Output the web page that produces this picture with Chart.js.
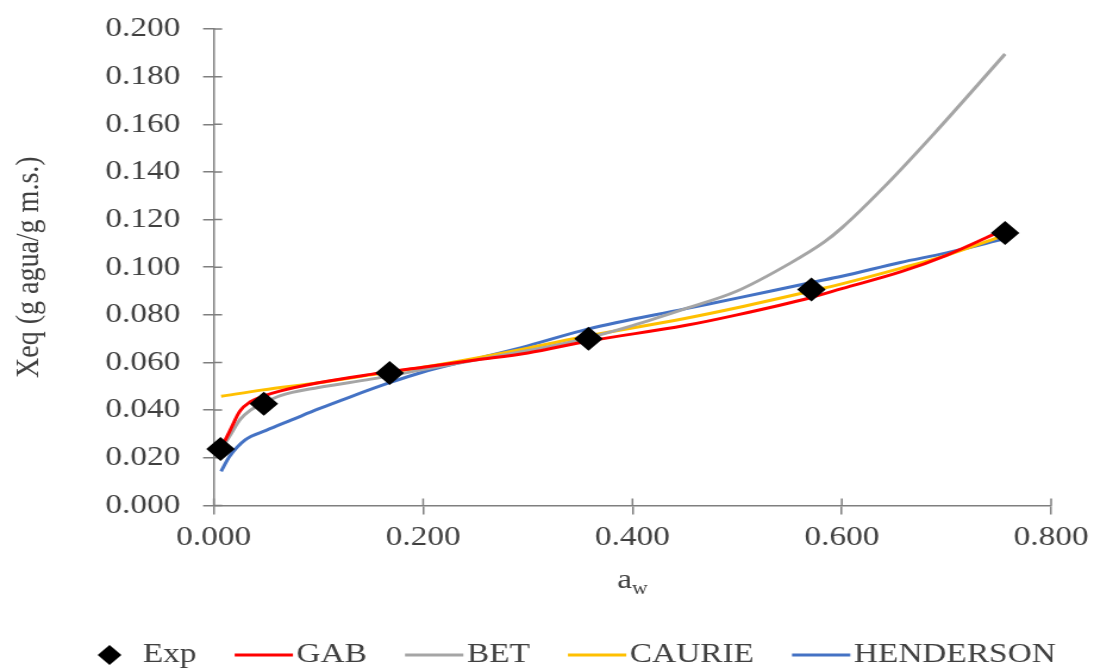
<!DOCTYPE html>
<html>
<head>
<meta charset="utf-8">
<script src="https://cdn.jsdelivr.net/npm/chart.js@4/dist/chart.umd.min.js"></script>
<style>
  body { margin: 0; background: #fff; }
  #wrap { width: 1094px; height: 670px; overflow: hidden; }
  /* the original figure is stretched sideways, so the canvas is too */
  #isoChart { transform: scaleX(1.1904); transform-origin: 0 0; }
</style>
</head>
<body>
<div id="wrap"><canvas id="isoChart" width="919" height="670"></canvas></div>
<script>
// experimental points
const expX = [0.0064, 0.0478, 0.168, 0.358, 0.571, 0.756];
const expY = [0.0237, 0.0427, 0.0556, 0.0700, 0.0906, 0.1144];

// model curves
const gabX = [0.007, 0.015, 0.025, 0.035, 0.048, 0.063, 0.1, 0.15, 0.2, 0.25, 0.3, 0.358, 0.45, 0.5, 0.571, 0.6, 0.656, 0.7, 0.756];
const gabY = [0.024, 0.031, 0.0396, 0.0435, 0.046, 0.048, 0.0515, 0.055, 0.058, 0.061, 0.064, 0.069, 0.0755, 0.080, 0.0873, 0.091, 0.098, 0.105, 0.116];

const betX = [0.007, 0.015, 0.025, 0.035, 0.048, 0.063, 0.1, 0.15, 0.2, 0.25, 0.3, 0.35, 0.4, 0.45, 0.5, 0.55, 0.583, 0.6, 0.64, 0.688, 0.756];
const betY = [0.0235, 0.029, 0.036, 0.040, 0.043, 0.046, 0.0495, 0.053, 0.057, 0.061, 0.065, 0.0695, 0.0755, 0.0825, 0.090, 0.1015, 0.1105, 0.1165, 0.1335, 0.156, 0.1895];

const caurieX = [0.007, 0.047, 0.1, 0.15, 0.2, 0.25, 0.3, 0.358, 0.45, 0.5, 0.571, 0.6, 0.656, 0.7, 0.756];
const caurieY = [0.0458, 0.0485, 0.0515, 0.0548, 0.058, 0.0618, 0.066, 0.0712, 0.0785, 0.083, 0.090, 0.093, 0.0995, 0.105, 0.1135];

const hendX = [0.007, 0.015, 0.03, 0.05, 0.075, 0.1, 0.13, 0.168, 0.2, 0.25, 0.3, 0.358, 0.45, 0.5, 0.571, 0.6, 0.656, 0.7, 0.756];
const hendY = [0.0143, 0.0205, 0.0275, 0.0315, 0.036, 0.0405, 0.0455, 0.0515, 0.056, 0.0615, 0.067, 0.0741, 0.0825, 0.087, 0.0936, 0.0962, 0.102, 0.106, 0.112];

const seriesLabels = ['Exp', 'GAB', 'BET', 'CAURIE', 'HENDERSON'];
const yTitle = 'Xeq (g agua/g m.s.)';

const FONT = 'Liberation Serif';
const textColor = '#404040';
const axisColor = '#7f7f7f';

const toPoints = (xs, ys) => xs.map((v, i) => ({ x: v, y: ys[i] }));

const curve = (label, xs, ys, color) => ({
  label: label,
  data: toPoints(xs, ys),
  showLine: true,
  borderColor: color,
  backgroundColor: color,
  borderWidth: 3,
  pointRadius: 0,
  cubicInterpolationMode: 'monotone',
  order: 1,
});

// inner half of tick marks, x-axis title with subscript, and the legend
const extras = {
  id: 'extras',
  beforeDatasetsDraw(chart) {
    const { ctx, chartArea: a, scales: { x, y } } = chart;
    ctx.save();
    ctx.strokeStyle = axisColor;
    ctx.lineWidth = 1.5;
    ctx.beginPath();
    y.ticks.forEach(t => {
      const py = y.getPixelForValue(t.value);
      ctx.moveTo(a.left, py);
      ctx.lineTo(a.left + 7, py);
    });
    x.ticks.forEach(t => {
      const px = x.getPixelForValue(t.value);
      ctx.moveTo(px, a.bottom);
      ctx.lineTo(px, a.bottom - 7);
    });
    ctx.stroke();
    ctx.restore();
  },
  afterDraw(chart) {
    const { ctx, chartArea: a } = chart;
    ctx.save();
    ctx.fillStyle = textColor;
    ctx.textBaseline = 'alphabetic';

    // a_w
    ctx.font = '28px "' + FONT + '"';
    const wa = ctx.measureText('a').width;
    ctx.font = '18px "' + FONT + '"';
    const ww = ctx.measureText('w').width;
    const tx = (a.left + a.right) / 2 - (wa + ww) / 2;
    ctx.font = '28px "' + FONT + '"';
    ctx.fillText('a', tx, 588);
    ctx.font = '18px "' + FONT + '"';
    ctx.fillText('w', tx + wa, 594);

    // legend
    ctx.font = '28px "' + FONT + '"';
    ctx.textBaseline = 'middle';
    const ly = 655;
    let lx = 82;
    chart.data.datasets.forEach(ds => {
      if (ds.pointStyle === 'rectRot') {
        ctx.fillStyle = '#000';
        ctx.beginPath();
        ctx.moveTo(lx, ly);
        ctx.lineTo(lx + 10, ly - 10);
        ctx.lineTo(lx + 20, ly);
        ctx.lineTo(lx + 10, ly + 10);
        ctx.closePath();
        ctx.fill();
        lx += 38;
      } else {
        ctx.strokeStyle = ds.borderColor;
        ctx.lineWidth = 3;
        ctx.beginPath();
        ctx.moveTo(lx, ly);
        ctx.lineTo(lx + 49, ly);
        ctx.stroke();
        lx += 52;
      }
      ctx.fillStyle = textColor;
      ctx.fillText(ds.label, lx, ly);
      lx += ctx.measureText(ds.label).width + 32;
    });
    ctx.restore();
  }
};

new Chart(document.getElementById('isoChart'), {
  type: 'scatter',
  data: {
    datasets: [
      {
        label: seriesLabels[0],
        data: toPoints(expX, expY),
        showLine: false,
        pointStyle: 'rectRot',
        pointRadius: 12,
        pointBackgroundColor: '#000',
        pointBorderWidth: 0,
        backgroundColor: '#000',
        borderColor: '#000',
        clip: false,
        order: 0,
      },
      curve(seriesLabels[1], gabX, gabY, '#ff0000'),
      curve(seriesLabels[2], betX, betY, '#a5a5a5'),
      curve(seriesLabels[3], caurieX, caurieY, '#ffc000'),
      curve(seriesLabels[4], hendX, hendY, '#4472c4'),
    ],
  },
  options: {
    responsive: false,
    animation: false,
    devicePixelRatio: 1,
    layout: { padding: { left: 8, right: 36, top: 29, bottom: 110 } },
    plugins: {
      legend: { display: false },
      tooltip: { enabled: false },
    },
    scales: {
      x: {
        type: 'linear',
        min: 0,
        max: 0.8,
        afterFit: s => { s.paddingRight = 0; },
        border: { display: true, color: axisColor, width: 1.5 },
        grid: { drawOnChartArea: false, drawTicks: true, tickLength: 9, color: axisColor, lineWidth: 1.5 },
        ticks: {
          stepSize: 0.2,
          padding: 6,
          color: textColor,
          font: { family: FONT, size: 28 },
          callback: v => v.toFixed(3),
        },
      },
      y: {
        min: 0,
        max: 0.2,
        afterFit: s => { s.paddingTop = 0; },
        border: { display: true, color: axisColor, width: 1.5 },
        grid: { drawOnChartArea: false, drawTicks: true, tickLength: 9, color: axisColor, lineWidth: 1.5 },
        ticks: {
          stepSize: 0.02,
          padding: 19,
          color: textColor,
          font: { family: FONT, size: 28 },
          callback: v => v.toFixed(3),
        },
        title: {
          display: true,
          text: yTitle,
          color: textColor,
          font: { family: FONT, size: 28, lineHeight: 1.2 },
          padding: { top: 0, bottom: 28 },
        },
      },
    },
  },
  plugins: [extras],
});
</script>
</body>
</html>
